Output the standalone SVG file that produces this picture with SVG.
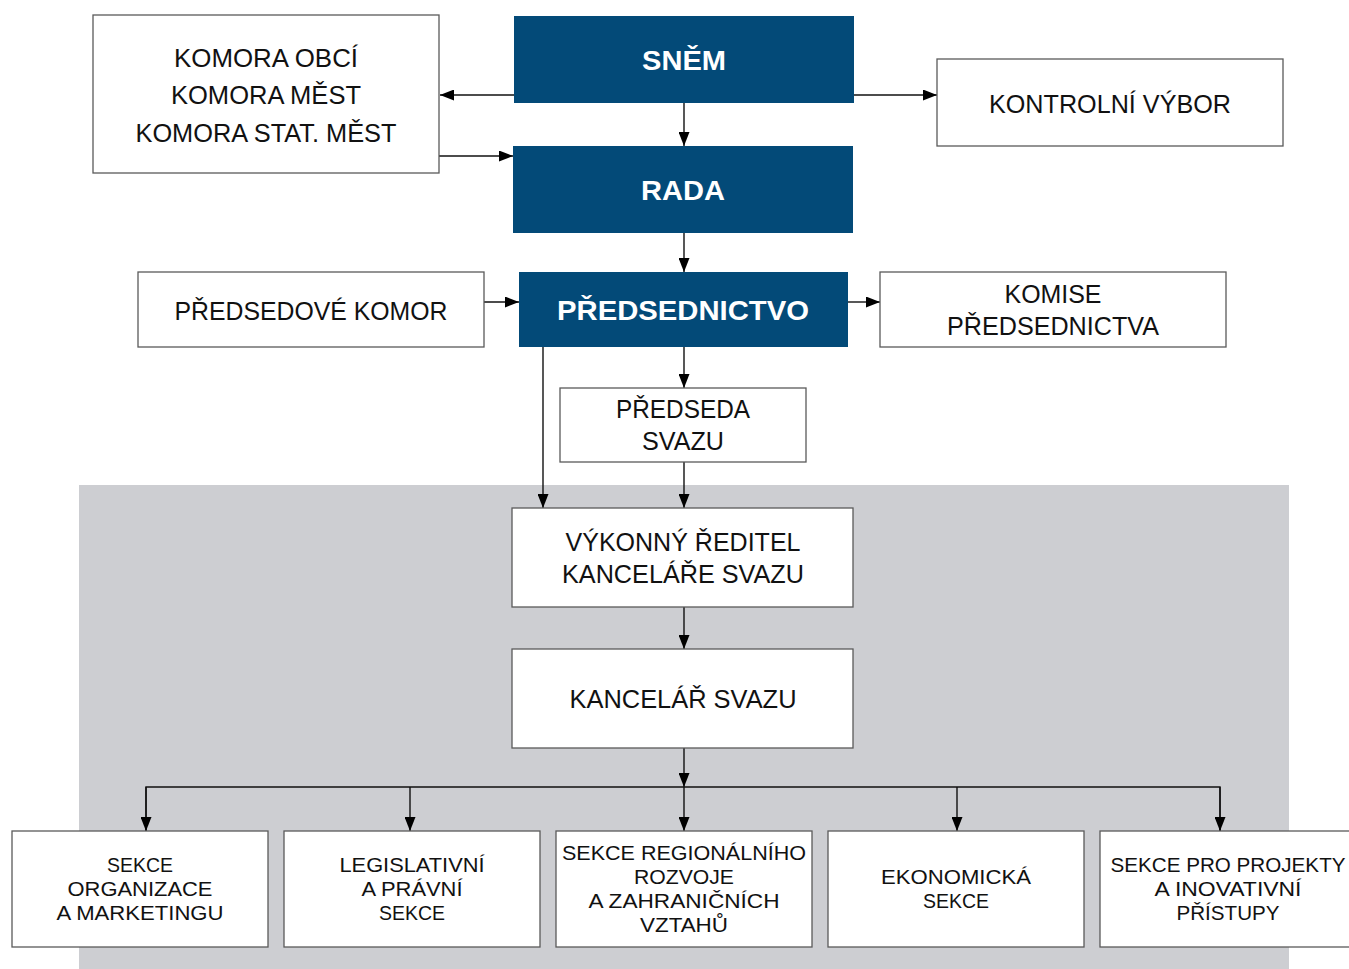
<svg xmlns="http://www.w3.org/2000/svg" width="1349" height="969" viewBox="0 0 1349 969">
<style>
.box{fill:#fff;stroke:#5a5a5a;stroke-width:1.3}
.dark{fill:#034a78}
.t{font-family:"Liberation Sans",Arial,sans-serif;font-size:26px;fill:#111;text-anchor:middle}
.b{font-family:"Liberation Sans",Arial,sans-serif;font-size:28px;font-weight:bold;fill:#fff;text-anchor:middle}
.s{font-family:"Liberation Sans",Arial,sans-serif;font-size:21px;fill:#111;text-anchor:middle}
.c{fill:none;stroke:#111;stroke-width:1.4}
</style>
<defs>
<marker id="ah" markerUnits="userSpaceOnUse" markerWidth="14" markerHeight="11" refX="14" refY="5.5" orient="auto">
<path d="M0,0 L14,5.5 L0,11 z" fill="#000"/>
</marker>
</defs>
<rect x="0" y="0" width="1349" height="969" fill="#fff"/>
<rect id="office-area" x="79" y="485" width="1210" height="484" fill="#cdced2"/>

<g id="connectors">
<line class="c" x1="514" y1="95" x2="440" y2="95" marker-end="url(#ah)"/>
<line class="c" x1="439" y1="156" x2="513" y2="156" marker-end="url(#ah)"/>
<line class="c" x1="854" y1="95" x2="937" y2="95" marker-end="url(#ah)"/>
<line class="c" x1="684" y1="103" x2="684" y2="146" marker-end="url(#ah)"/>
<line class="c" x1="684" y1="233" x2="684" y2="272" marker-end="url(#ah)"/>
<line class="c" x1="484" y1="302" x2="519" y2="302" marker-end="url(#ah)"/>
<line class="c" x1="848" y1="302" x2="880" y2="302" marker-end="url(#ah)"/>
<line class="c" x1="684" y1="347" x2="684" y2="388" marker-end="url(#ah)"/>
<line class="c" x1="543" y1="347" x2="543" y2="508" marker-end="url(#ah)"/>
<line class="c" x1="684" y1="462" x2="684" y2="508" marker-end="url(#ah)"/>
<line class="c" x1="684" y1="607" x2="684" y2="649" marker-end="url(#ah)"/>
<line class="c" x1="684" y1="748" x2="684" y2="787" marker-end="url(#ah)"/>
<polyline class="c" points="146,831 146,787 1220,787 1220,831"/>
<line class="c" x1="146" y1="787" x2="146" y2="831" marker-end="url(#ah)"/>
<line class="c" x1="1220" y1="787" x2="1220" y2="831" marker-end="url(#ah)"/>
<line class="c" x1="410" y1="787" x2="410" y2="831" marker-end="url(#ah)"/>
<line class="c" x1="684" y1="787" x2="684" y2="831" marker-end="url(#ah)"/>
<line class="c" x1="957" y1="787" x2="957" y2="831" marker-end="url(#ah)"/>
</g>

<g id="komory">
<rect class="box" x="93" y="15" width="346" height="158"/>
<text class="t" x="266" y="67" textLength="184" lengthAdjust="spacingAndGlyphs">KOMORA OBCÍ</text>
<text class="t" x="266" y="104" textLength="190" lengthAdjust="spacingAndGlyphs">KOMORA MĚST</text>
<text class="t" x="266" y="142" textLength="261" lengthAdjust="spacingAndGlyphs">KOMORA STAT. MĚST</text>
</g>

<g id="snem">
<rect class="dark" x="514" y="16" width="340" height="87"/>
<text class="b" x="684" y="70" textLength="84" lengthAdjust="spacingAndGlyphs">SNĚM</text>
</g>

<g id="kontrolni-vybor">
<rect class="box" x="937" y="59" width="346" height="87"/>
<text class="t" x="1110" y="113" textLength="242" lengthAdjust="spacingAndGlyphs">KONTROLNÍ VÝBOR</text>
</g>

<g id="rada">
<rect class="dark" x="513" y="146" width="340" height="87"/>
<text class="b" x="683" y="200" textLength="84" lengthAdjust="spacingAndGlyphs">RADA</text>
</g>

<g id="predsedove-komor">
<rect class="box" x="138" y="272" width="346" height="75"/>
<text class="t" x="311" y="320" textLength="273" lengthAdjust="spacingAndGlyphs">PŘEDSEDOVÉ KOMOR</text>
</g>

<g id="predsednictvo">
<rect class="dark" x="519" y="272" width="329" height="75"/>
<text class="b" x="683" y="320" textLength="252" lengthAdjust="spacingAndGlyphs">PŘEDSEDNICTVO</text>
</g>

<g id="komise">
<rect class="box" x="880" y="272" width="346" height="75"/>
<text class="t" x="1053" y="303" textLength="97" lengthAdjust="spacingAndGlyphs">KOMISE</text>
<text class="t" x="1053" y="335" textLength="212" lengthAdjust="spacingAndGlyphs">PŘEDSEDNICTVA</text>
</g>

<g id="predseda">
<rect class="box" x="560" y="388" width="246" height="74"/>
<text class="t" x="683" y="418" textLength="134" lengthAdjust="spacingAndGlyphs">PŘEDSEDA</text>
<text class="t" x="683" y="450" textLength="82" lengthAdjust="spacingAndGlyphs">SVAZU</text>
</g>

<g id="vykonny-reditel">
<rect class="box" x="512" y="508" width="341" height="99"/>
<text class="t" x="683" y="551" textLength="235" lengthAdjust="spacingAndGlyphs">VÝKONNÝ ŘEDITEL</text>
<text class="t" x="683" y="583" textLength="242" lengthAdjust="spacingAndGlyphs">KANCELÁŘE SVAZU</text>
</g>

<g id="kancelar">
<rect class="box" x="512" y="649" width="341" height="99"/>
<text class="t" x="683" y="708" textLength="227" lengthAdjust="spacingAndGlyphs">KANCELÁŘ SVAZU</text>
</g>

<g id="sekce-organizace">
<rect class="box" x="12" y="831" width="256" height="116"/>
<text class="s" x="140" y="872" textLength="66" lengthAdjust="spacingAndGlyphs">SEKCE</text>
<text class="s" x="140" y="896" textLength="145" lengthAdjust="spacingAndGlyphs">ORGANIZACE</text>
<text class="s" x="140" y="920" textLength="167" lengthAdjust="spacingAndGlyphs">A MARKETINGU</text>
</g>

<g id="sekce-legislativni">
<rect class="box" x="284" y="831" width="256" height="116"/>
<text class="s" x="412" y="872" textLength="145" lengthAdjust="spacingAndGlyphs">LEGISLATIVNÍ</text>
<text class="s" x="412" y="896" textLength="101" lengthAdjust="spacingAndGlyphs">A PRÁVNÍ</text>
<text class="s" x="412" y="920" textLength="66" lengthAdjust="spacingAndGlyphs">SEKCE</text>
</g>

<g id="sekce-regionalni">
<rect class="box" x="556" y="831" width="256" height="116"/>
<text class="s" x="684" y="860" textLength="244" lengthAdjust="spacingAndGlyphs">SEKCE REGIONÁLNÍHO</text>
<text class="s" x="684" y="884" textLength="100" lengthAdjust="spacingAndGlyphs">ROZVOJE</text>
<text class="s" x="684" y="908" textLength="191" lengthAdjust="spacingAndGlyphs">A ZAHRANIČNÍCH</text>
<text class="s" x="684" y="932" textLength="88" lengthAdjust="spacingAndGlyphs">VZTAHŮ</text>
</g>

<g id="sekce-ekonomicka">
<rect class="box" x="828" y="831" width="256" height="116"/>
<text class="s" x="956" y="884" textLength="150" lengthAdjust="spacingAndGlyphs">EKONOMICKÁ</text>
<text class="s" x="956" y="908" textLength="66" lengthAdjust="spacingAndGlyphs">SEKCE</text>
</g>

<g id="sekce-projekty">
<rect class="box" x="1100" y="831" width="256" height="116"/>
<text class="s" x="1228" y="872" textLength="235" lengthAdjust="spacingAndGlyphs">SEKCE PRO PROJEKTY</text>
<text class="s" x="1228" y="896" textLength="147" lengthAdjust="spacingAndGlyphs">A INOVATIVNÍ</text>
<text class="s" x="1228" y="920" textLength="103" lengthAdjust="spacingAndGlyphs">PŘÍSTUPY</text>
</g>
</svg>
